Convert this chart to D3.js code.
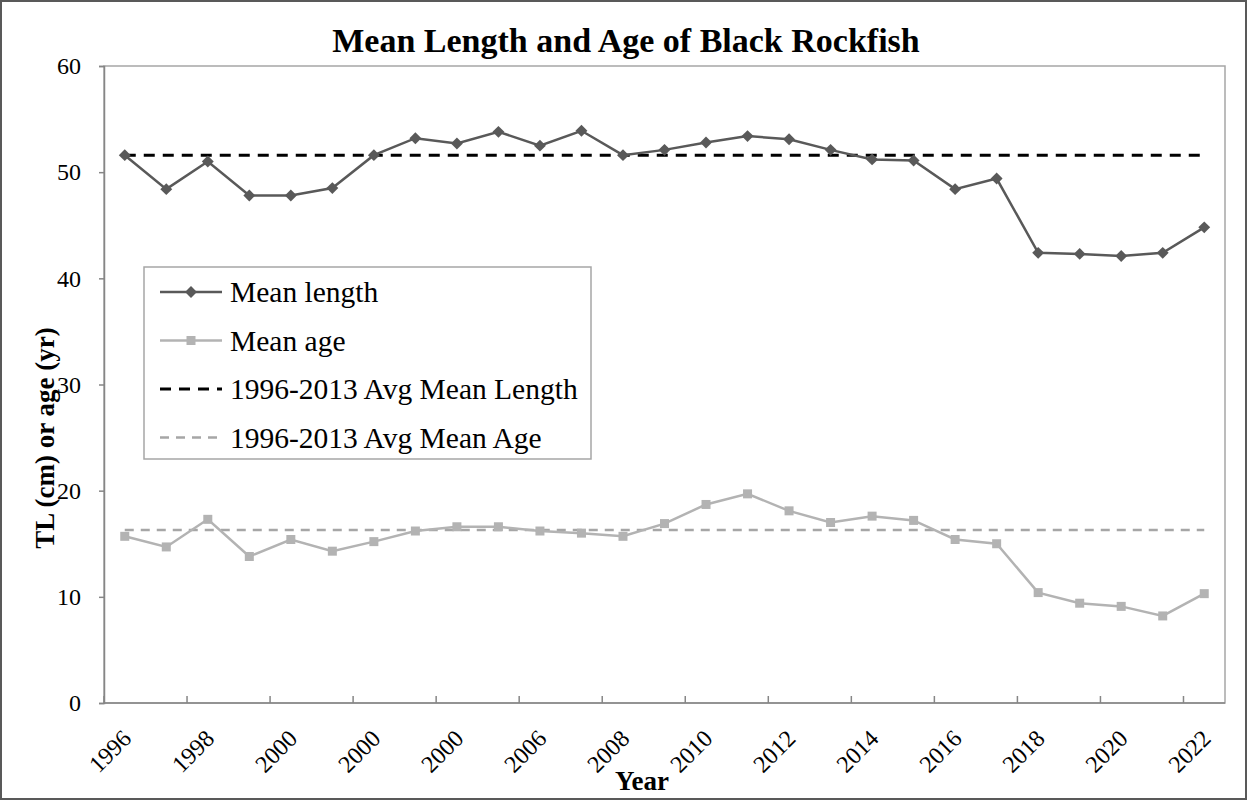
<!DOCTYPE html>
<html>
<head>
<meta charset="utf-8">
<script src="https://cdn.jsdelivr.net/npm/d3@7"></script>
<style>
  body { margin: 0; background: #fff; }
  text { font-family: "Liberation Serif", "Times New Roman", serif; fill: #000; }
</style>
</head>
<body>
<div id="chart"></div>
<script>
// data
const years = ["1996","1997","1998","1999","2000","2001","2002","2003","2004","2005","2006","2007","2008",
    "2009","2010","2011","2012","2013","2014","2015","2016","2017","2018","2019","2020","2021","2022"];
// labels as printed under every other category
const tickLabels = ["1996","1998","2000","2000","2000","2006","2008","2010","2012","2014","2016","2018","2020","2022"];
const meanLength = [51.6, 48.4, 51.0, 47.8, 47.8, 48.5, 51.6, 53.2, 52.7, 53.8, 52.5, 53.9, 51.6, 52.1,
    52.8, 53.4, 53.1, 52.1, 51.2, 51.1, 48.4, 49.4, 42.4, 42.3, 42.1, 42.4, 44.8];
const meanAge = [15.7, 14.7, 17.3, 13.8, 15.4, 14.3, 15.2, 16.2, 16.6, 16.6, 16.2, 16.0, 15.7, 16.9,
    18.7, 19.7, 18.1, 17.0, 17.6, 17.2, 15.4, 15.0, 10.4, 9.4, 9.1, 8.2, 10.3];
const avgLength = 51.6;
const avgAge = 16.3;
const yTicks = [0, 10, 20, 30, 40, 50, 60];

const W = 1247, H = 801;
const margin = {top: 66, right: 22, bottom: 98, left: 104},
    width = W - margin.left - margin.right,
    height = H - margin.top - margin.bottom;

const root = d3.select("#chart")
    .append("svg")
    .attr("width", W)
    .attr("height", H);

// outer chart border
root.append("rect")
    .attr("x", 1).attr("y", 1)
    .attr("width", W - 2).attr("height", H - 3)
    .attr("fill", "#fff")
    .attr("stroke", "#595959")
    .attr("stroke-width", 2);

const svg = root.append("g")
    .attr("transform", `translate(${margin.left},${margin.top})`);

//scales
const x = d3.scaleBand().domain(years).range([0, width]);
const cx = d => x(d) + x.bandwidth() / 2;
const y = d3.scaleLinear().domain([0, 60]).range([height, 0]);

// plot area box
svg.append("rect")
    .attr("width", width)
    .attr("height", height)
    .attr("fill", "none")
    .attr("stroke", "#a6a6a6")
    .attr("stroke-width", 1.5);

//y axis
const yAxis = svg.append("g")
    .call(d3.axisLeft(y).tickValues(yTicks).tickSize(5).tickPadding(18));
yAxis.select(".domain").attr("stroke", "#868686").attr("stroke-width", 1.5);
yAxis.selectAll(".tick line").attr("stroke", "#868686").attr("stroke-width", 1.5);
yAxis.selectAll("text")
    .attr("font-size", "24px")
    .attr("font-family", "Liberation Serif");

//x axis
svg.append("line")
    .attr("x1", 0).attr("x2", width)
    .attr("y1", height).attr("y2", height)
    .attr("stroke", "#868686")
    .attr("stroke-width", 1.5);

const evenYears = years.filter((d, i) => i % 2 === 0);
svg.selectAll(".xtick")
    .data(evenYears)
    .enter()
    .append("line")
    .attr("x1", d => x(d)).attr("x2", d => x(d))
    .attr("y1", height).attr("y2", height - 7)
    .attr("stroke", "#868686")
    .attr("stroke-width", 1.5);

svg.selectAll(".xlabel")
    .data(tickLabels)
    .enter()
    .append("text")
    .attr("font-size", "24px")
    .attr("text-anchor", "end")
    .attr("transform", (d, i) => `translate(${cx(evenYears[i]) + 8},${height + 37}) rotate(-45)`)
    .text(d => d);

// average lines
const first = years[0], last = years[years.length - 1];
svg.append("line")
    .attr("x1", cx(first)).attr("x2", cx(last))
    .attr("y1", y(avgLength)).attr("y2", y(avgLength))
    .attr("stroke", "#000")
    .attr("stroke-width", 3)
    .attr("stroke-dasharray", "11,8");

svg.append("line")
    .attr("x1", cx(first)).attr("x2", cx(last))
    .attr("y1", y(avgAge)).attr("y2", y(avgAge))
    .attr("stroke", "#a6a6a6")
    .attr("stroke-width", 2.5)
    .attr("stroke-dasharray", "9,7");

// series lines
const line = d3.line()
    .x((d, i) => cx(years[i]))
    .y(d => y(d));

svg.append("path")
    .datum(meanAge)
    .attr("fill", "none")
    .attr("stroke", "#b3b3b3")
    .attr("stroke-width", 2.5)
    .attr("d", line);

svg.selectAll(".sq")
    .data(meanAge)
    .enter()
    .append("rect")
    .attr("x", (d, i) => cx(years[i]) - 4.5)
    .attr("y", d => y(d) - 4.5)
    .attr("width", 9)
    .attr("height", 9)
    .attr("fill", "#b3b3b3");

svg.append("path")
    .datum(meanLength)
    .attr("fill", "none")
    .attr("stroke", "#595959")
    .attr("stroke-width", 2.5)
    .attr("d", line);

const diamond = d3.symbol().type(d3.symbolDiamond2).size(90);
svg.selectAll(".dm")
    .data(meanLength)
    .enter()
    .append("path")
    .attr("d", diamond)
    .attr("transform", (d, i) => `translate(${cx(years[i])},${y(d)})`)
    .attr("fill", "#595959");

//legend
const legend = root.append("g").attr("transform", "translate(144,267)");
legend.append("rect")
    .attr("width", 447)
    .attr("height", 192)
    .attr("fill", "#fff")
    .attr("stroke", "#a6a6a6")
    .attr("stroke-width", 1.5);

const items = [
    {name: "Mean length", color: "#595959", dash: null, w: 2.5, mark: "diamond"},
    {name: "Mean age", color: "#b3b3b3", dash: null, w: 2.5, mark: "square"},
    {name: "1996-2013 Avg Mean Length", color: "#000", dash: "11,8", w: 3, mark: null},
    {name: "1996-2013 Avg Mean Age", color: "#a6a6a6", dash: "9,7", w: 2.5, mark: null}
];
const row = legend.selectAll(".row")
    .data(items)
    .enter()
    .append("g")
    .attr("transform", (d, i) => `translate(0,${25 + i * 48.5})`);

row.append("line")
    .attr("x1", 16).attr("x2", 78)
    .attr("stroke", d => d.color)
    .attr("stroke-width", d => d.w)
    .attr("stroke-dasharray", d => d.dash);

row.filter(d => d.mark === "diamond")
    .append("path")
    .attr("d", diamond)
    .attr("transform", "translate(47,0)")
    .attr("fill", "#595959");

row.filter(d => d.mark === "square")
    .append("rect")
    .attr("x", 42.5).attr("y", -4.5)
    .attr("width", 9).attr("height", 9)
    .attr("fill", "#b3b3b3");

row.append("text")
    .attr("x", 86)
    .attr("y", 10)
    .attr("font-size", "29.5px")
    .text(d => d.name);

// titles
root.append("text")
    .attr("x", 626)
    .attr("y", 52)
    .attr("text-anchor", "middle")
    .attr("font-size", "34px")
    .attr("font-weight", "bold")
    .text("Mean Length and Age of Black Rockfish");

root.append("text")
    .attr("x", 642)
    .attr("y", 790)
    .attr("text-anchor", "middle")
    .attr("font-size", "27px")
    .attr("font-weight", "bold")
    .text("Year");

root.append("text")
    .attr("transform", "translate(54,438) rotate(-90)")
    .attr("text-anchor", "middle")
    .attr("font-size", "27px")
    .attr("font-weight", "bold")
    .text("TL (cm) or age (yr)");
</script>
</body>
</html>
